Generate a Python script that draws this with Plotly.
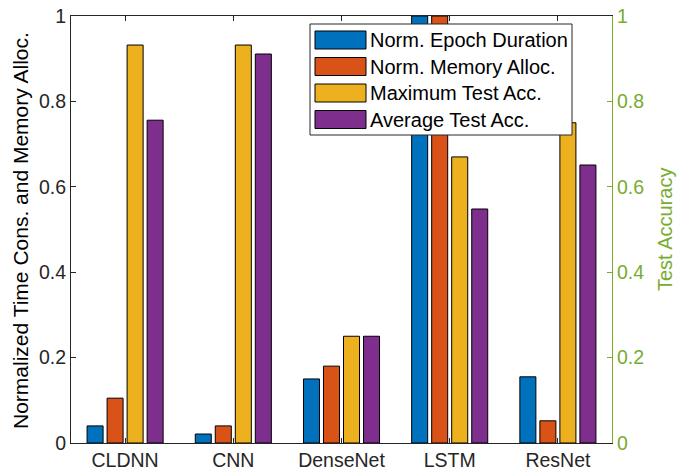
import plotly.graph_objects as go

categories = ["CLDNN", "CNN", "DenseNet", "LSTM", "ResNet"]
epoch_duration = [0.040, 0.021, 0.150, 1.000, 0.155]
memory_alloc = [0.105, 0.040, 0.180, 1.000, 0.052]
max_test_acc = [0.932, 0.932, 0.250, 0.670, 0.750]
avg_test_acc = [0.756, 0.911, 0.250, 0.548, 0.651]
series_names = ["Norm. Epoch Duration", "Norm. Memory Alloc.",
                "Maximum Test Acc.", "Average Test Acc."]
series_colors = ["#0072BD", "#D95319", "#EDB120", "#7E2F8E"]
y_ticks = [0, 0.2, 0.4, 0.6, 0.8, 1]

W, H = 678, 473
L, R, T, B = 71, 612, 16, 443
FONT = "Liberation Sans, Arial, Helvetica, sans-serif"
DARK = "#262626"
GREEN = "#77AC30"
TICK_FS = 19.5

fig = go.Figure()
x_idx = list(range(1, len(categories) + 1))
for name, vals, col in zip(series_names,
                           [epoch_duration, memory_alloc, max_test_acc, avg_test_acc],
                           series_colors):
    fig.add_trace(go.Bar(x=x_idx, y=vals, name=name, marker_color=col,
                         marker_line_color="black", marker_line_width=1,
                         showlegend=False))
# empty trace so the right axis is drawn
fig.add_trace(go.Scatter(x=[None], y=[None], yaxis="y2", showlegend=False))

fig.update_layout(
    width=W, height=H,
    margin=dict(l=L, r=W - R, t=T, b=H - B, autoexpand=False),
    paper_bgcolor="white", plot_bgcolor="white",
    barmode="group", bargap=0.26, bargroupgap=0.2,
    font=dict(family=FONT, size=TICK_FS, color=DARK),
    xaxis=dict(range=[0.5, 5.5], tickvals=x_idx, ticktext=categories,
               showline=True, linecolor=DARK, linewidth=1, mirror="ticks",
               ticks="inside", ticklen=5, tickcolor=DARK, showgrid=False,
               zeroline=False, automargin=False,
               tickfont=dict(size=TICK_FS, color=DARK)),
    yaxis=dict(range=[0, 1], tickvals=y_ticks, showline=True, linecolor=DARK,
               linewidth=1, ticks="inside", ticklen=5, tickcolor=DARK,
               showgrid=False, zeroline=False, automargin=False,
               tickfont=dict(size=TICK_FS, color=DARK)),
    yaxis2=dict(range=[0, 1], tickvals=y_ticks, overlaying="y", side="right",
                anchor="x", showline=True, linecolor=GREEN, linewidth=1,
                ticks="inside", ticklen=5, tickcolor=GREEN, showgrid=False,
                zeroline=False, automargin=False,
                tickfont=dict(size=TICK_FS, color=GREEN)),
)

def px_x(p):
    return (p - L) / (R - L)

def px_y(p):
    return (B - p) / (B - T)

# axis titles
fig.add_annotation(xref="paper", yref="paper", x=px_x(20), y=px_y(231),
                   xanchor="center", yanchor="middle", showarrow=False,
                   textangle=-90, text="Normalized Time Cons. and Memory Alloc.",
                   font=dict(size=21, color="black", family=FONT))
fig.add_annotation(xref="paper", yref="paper", x=px_x(665), y=px_y(230),
                   xanchor="center", yanchor="middle", showarrow=False,
                   textangle=-90, text="Test Accuracy",
                   font=dict(size=20, color=GREEN, family=FONT))

# legend box drawn manually
lx0, lx1, ly0, ly1 = 310, 572, 24, 135
fig.add_shape(type="rect", xref="paper", yref="paper",
              x0=px_x(lx0), x1=px_x(lx1), y0=px_y(ly1), y1=px_y(ly0),
              fillcolor="white", line=dict(color=DARK, width=1), layer="above")
row_y = [40, 66.5, 93, 119.5]
for yy, name, col in zip(row_y, series_names, series_colors):
    fig.add_shape(type="rect", xref="paper", yref="paper",
                  x0=px_x(315), x1=px_x(366), y0=px_y(yy + 9), y1=px_y(yy - 9),
                  fillcolor=col, line=dict(color="black", width=1), layer="above")
    fig.add_annotation(xref="paper", yref="paper", x=px_x(368), y=px_y(yy),
                       xanchor="left", yanchor="middle", showarrow=False,
                       text=name, font=dict(size=20, color="black", family=FONT))

fig.write_html("out.html",
               config={"displayModeBar": False, "staticPlot": True},
               post_script="document.body.style.margin='0';"
                           "document.body.style.overflow='hidden';")
